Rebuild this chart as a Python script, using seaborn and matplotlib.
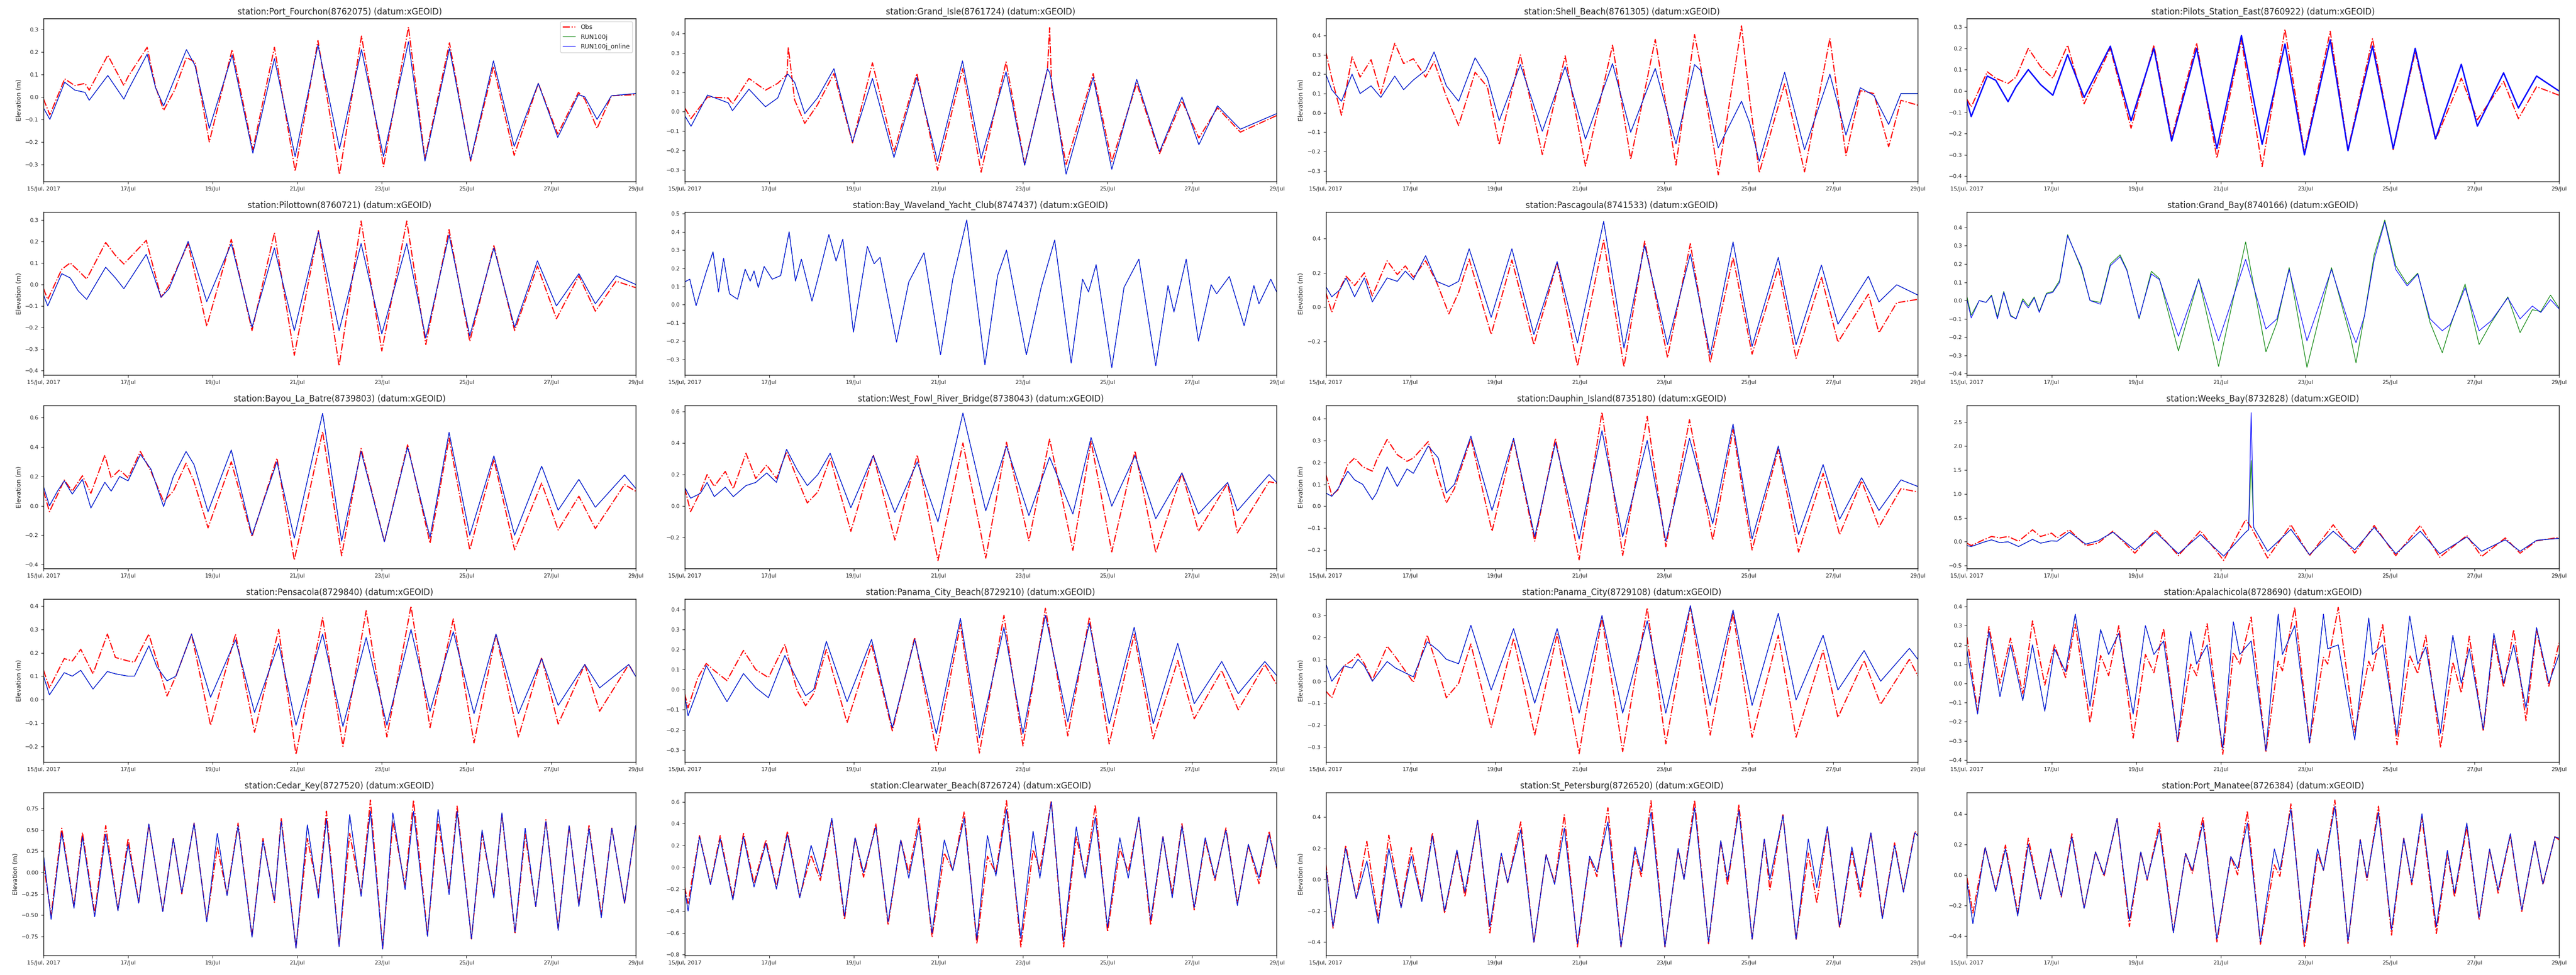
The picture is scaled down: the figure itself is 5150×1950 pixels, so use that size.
import pandas as pd
import seaborn as sns
import matplotlib.pyplot as plt

start = pd.Timestamp("2017-07-15")
end = pd.Timestamp("2017-07-29")
tick_labels = ["15/Jul, 2017", "17/Jul", "19/Jul", "21/Jul", "23/Jul", "25/Jul", "27/Jul", "29/Jul"]

# values: times in days from 15 Jul 00:00, elevations in m
fourchon_days = [0, 0.15, 0.5, 0.74, 0.98, 1.08, 1.52, 1.9, 2.0, 2.45, 2.65, 2.84, 3.1, 3.38, 3.58, 3.92, 4.46, 4.95, 5.46, 5.95, 6.49, 7.0, 7.52, 8.04, 8.63, 9.02, 9.6, 10.1, 10.64, 11.13, 11.7, 12.16, 12.65, 12.8, 13.09, 13.43, 14.0]
fourchon_obs = [-0.01, -0.08, 0.08, 0.05, 0.06, 0.03, 0.185, 0.05, 0.09, 0.22, 0.045, -0.06, 0.03, 0.175, 0.155, -0.2, 0.21, -0.235, 0.22, -0.33, 0.25, -0.345, 0.27, -0.31, 0.31, -0.275, 0.24, -0.285, 0.135, -0.26, 0.06, -0.165, 0.02, -0.01, -0.14, 0.005, 0.01]
fourchon_run = [-0.05, -0.1, 0.065, 0.03, 0.02, -0.015, 0.095, -0.01, 0.03, 0.19, 0.04, -0.04, 0.08, 0.21, 0.14, -0.14, 0.185, -0.25, 0.17, -0.265, 0.23, -0.23, 0.21, -0.265, 0.245, -0.285, 0.215, -0.28, 0.16, -0.22, 0.06, -0.18, 0.01, 0.0, -0.1, 0.005, 0.015]

grandisle_days = [0, 0.15, 0.54, 1.03, 1.13, 1.52, 1.91, 2.2, 2.42, 2.45, 2.6, 2.84, 3.14, 3.53, 3.97, 4.44, 4.95, 5.49, 5.98, 6.57, 7.01, 7.6, 8.04, 8.58, 8.63, 8.68, 9.02, 9.66, 10.1, 10.69, 11.23, 11.76, 12.16, 12.6, 13.14, 14.0]
grandisle_obs = [0.02, -0.035, 0.075, 0.07, 0.04, 0.17, 0.11, 0.145, 0.19, 0.33, 0.06, -0.06, 0.035, 0.195, -0.16, 0.25, -0.205, 0.195, -0.3, 0.22, -0.31, 0.255, -0.27, 0.22, 0.43, 0.12, -0.27, 0.195, -0.255, 0.145, -0.215, 0.055, -0.135, 0.02, -0.105, -0.02]
grandisle_run = [-0.02, -0.075, 0.085, 0.045, 0.005, 0.115, 0.025, 0.07, 0.19, 0.19, 0.15, -0.01, 0.07, 0.22, -0.155, 0.17, -0.235, 0.175, -0.255, 0.26, -0.24, 0.205, -0.275, 0.22, 0.2, 0.15, -0.32, 0.175, -0.295, 0.165, -0.205, 0.075, -0.17, 0.03, -0.09, -0.01]

shell_days = [0, 0.14, 0.37, 0.62, 0.81, 1.07, 1.3, 1.63, 1.84, 2.07, 2.36, 2.56, 2.85, 3.14, 3.53, 3.82, 4.1, 4.6, 5.12, 5.66, 6.14, 6.78, 7.21, 7.79, 8.28, 8.72, 8.86, 9.28, 9.83, 10.02, 10.25, 10.85, 11.32, 11.92, 12.3, 12.64, 12.96, 13.31, 13.6, 14.0]
shell_obs = [0.315, 0.18, -0.012, 0.29, 0.185, 0.275, 0.1, 0.36, 0.255, 0.28, 0.185, 0.265, 0.085, -0.065, 0.21, 0.135, -0.165, 0.3, -0.215, 0.295, -0.275, 0.35, -0.24, 0.38, -0.27, 0.405, 0.245, -0.32, 0.45, 0.075, -0.31, 0.15, -0.305, 0.385, -0.22, 0.115, 0.1, -0.175, 0.065, 0.04]
shell_run = [0.2, 0.12, 0.06, 0.2, 0.1, 0.14, 0.08, 0.19, 0.12, 0.17, 0.22, 0.315, 0.14, 0.06, 0.285, 0.18, -0.04, 0.25, -0.095, 0.24, -0.135, 0.255, -0.1, 0.23, -0.16, 0.25, 0.22, -0.18, 0.06, -0.05, -0.25, 0.21, -0.19, 0.2, -0.115, 0.13, 0.09, -0.06, 0.1, 0.1]

pilots_days = [0, 0.1, 0.48, 0.68, 0.97, 1.16, 1.45, 1.74, 2.03, 2.38, 2.77, 3.39, 3.88, 4.42, 4.84, 5.43, 5.91, 6.49, 6.98, 7.52, 7.98, 8.59, 9.01, 9.59, 10.08, 10.6, 11.08, 11.69, 12.07, 12.69, 13.04, 13.47, 14.0]
pilots_obs = [-0.04, -0.075, 0.09, 0.06, 0.035, 0.065, 0.2, 0.115, 0.06, 0.215, -0.06, 0.2, -0.175, 0.215, -0.22, 0.225, -0.315, 0.24, -0.355, 0.29, -0.29, 0.28, -0.275, 0.245, -0.275, 0.185, -0.23, 0.06, -0.135, 0.045, -0.13, 0.02, -0.02]
pilots_run = [-0.05, -0.12, 0.07, 0.05, -0.05, 0.02, 0.1, 0.03, -0.02, 0.17, -0.03, 0.21, -0.14, 0.2, -0.235, 0.2, -0.27, 0.26, -0.25, 0.22, -0.3, 0.24, -0.28, 0.21, -0.27, 0.2, -0.225, 0.125, -0.165, 0.085, -0.08, 0.07, 0.0]

pilottown_days = [0, 0.1, 0.43, 0.63, 0.82, 1.02, 1.47, 1.7, 1.9, 2.43, 2.78, 2.97, 3.42, 3.86, 4.44, 4.93, 5.46, 5.93, 6.5, 6.99, 7.51, 8.0, 8.59, 9.04, 9.59, 10.08, 10.65, 11.14, 11.68, 12.13, 12.66, 13.05, 13.54, 14.0]
pilottown_obs = [-0.02, -0.07, 0.07, 0.1, 0.065, 0.025, 0.195, 0.135, 0.095, 0.205, -0.06, -0.005, 0.19, -0.195, 0.21, -0.215, 0.24, -0.33, 0.25, -0.38, 0.295, -0.31, 0.295, -0.28, 0.255, -0.265, 0.18, -0.215, 0.085, -0.16, 0.04, -0.125, 0.015, -0.015]
pilottown_run = [-0.05, -0.1, 0.05, 0.03, -0.03, -0.07, 0.08, 0.03, -0.02, 0.14, -0.06, -0.02, 0.2, -0.08, 0.19, -0.2, 0.17, -0.215, 0.245, -0.215, 0.19, -0.23, 0.19, -0.25, 0.23, -0.24, 0.17, -0.2, 0.11, -0.1, 0.05, -0.09, 0.04, 0.0]

waveland_days = [0, 0.12, 0.27, 0.51, 0.67, 0.8, 0.92, 1.06, 1.25, 1.43, 1.55, 1.64, 1.74, 1.88, 2.07, 2.27, 2.47, 2.62, 2.76, 3.01, 3.19, 3.41, 3.58, 3.74, 3.99, 4.32, 4.48, 4.62, 5.01, 5.3, 5.66, 6.05, 6.34, 6.67, 7.1, 7.4, 7.61, 8.08, 8.43, 8.75, 9.14, 9.41, 9.55, 9.73, 10.1, 10.39, 10.74, 11.14, 11.43, 11.57, 11.86, 12.15, 12.45, 12.58, 12.88, 13.23, 13.46, 13.58, 13.86, 14.0]
waveland_run = [0.125, 0.14, -0.005, 0.18, 0.29, 0.07, 0.255, 0.06, 0.03, 0.195, 0.13, 0.185, 0.095, 0.21, 0.14, 0.16, 0.4, 0.13, 0.25, 0.02, 0.18, 0.385, 0.24, 0.36, -0.15, 0.32, 0.225, 0.26, -0.205, 0.125, 0.285, -0.275, 0.14, 0.465, -0.33, 0.16, 0.3, -0.275, 0.095, 0.355, -0.32, 0.14, 0.07, 0.22, -0.345, 0.095, 0.25, -0.335, 0.105, -0.04, 0.25, -0.2, 0.11, 0.06, 0.155, -0.115, 0.105, 0.005, 0.14, 0.07]

pascagoula_days = [0, 0.14, 0.33, 0.48, 0.68, 0.91, 1.1, 1.45, 1.69, 1.88, 2.07, 2.36, 2.62, 2.91, 3.14, 3.39, 3.91, 4.4, 4.92, 5.47, 5.95, 6.57, 7.05, 7.54, 8.08, 8.62, 9.09, 9.63, 10.08, 10.7, 11.12, 11.72, 12.11, 12.83, 13.08, 13.5, 14.0]
pascagoula_obs = [0.085, -0.03, 0.105, 0.18, 0.125, 0.2, 0.065, 0.27, 0.19, 0.24, 0.175, 0.27, 0.145, -0.04, 0.085, 0.28, -0.16, 0.275, -0.22, 0.26, -0.345, 0.39, -0.35, 0.385, -0.295, 0.37, -0.325, 0.29, -0.275, 0.23, -0.3, 0.175, -0.205, 0.075, -0.15, 0.025, 0.045]
pascagoula_run = [0.12, 0.06, 0.1, 0.17, 0.06, 0.17, 0.03, 0.17, 0.15, 0.21, 0.16, 0.3, 0.15, 0.12, 0.15, 0.34, -0.06, 0.34, -0.16, 0.265, -0.21, 0.5, -0.24, 0.36, -0.22, 0.31, -0.28, 0.38, -0.23, 0.29, -0.22, 0.245, -0.1, 0.18, 0.03, 0.13, 0.07]

grandbay_days = [0, 0.1, 0.29, 0.45, 0.58, 0.72, 0.87, 1.03, 1.16, 1.32, 1.45, 1.59, 1.71, 1.88, 2.03, 2.19, 2.38, 2.71, 2.91, 3.16, 3.39, 3.62, 3.78, 4.07, 4.36, 4.55, 5.0, 5.48, 5.95, 6.59, 7.07, 7.33, 7.62, 8.04, 8.62, 9.07, 9.2, 9.4, 9.63, 9.88, 10.14, 10.41, 10.66, 10.95, 11.24, 11.43, 11.78, 12.11, 12.4, 12.79, 13.08, 13.37, 13.57, 13.8, 14.0]
grandbay_run = [0.02, -0.08, 0.0, -0.01, 0.03, -0.09, 0.05, -0.08, -0.1, 0.01, -0.03, 0.02, -0.06, 0.04, 0.05, 0.11, 0.36, 0.17, 0.0, -0.01, 0.2, 0.25, 0.17, -0.1, 0.16, 0.12, -0.275, 0.12, -0.36, 0.32, -0.28, -0.12, 0.18, -0.365, 0.18, -0.2, -0.34, -0.08, 0.25, 0.44, 0.19, 0.09, 0.15, -0.12, -0.285, -0.14, 0.09, -0.24, -0.12, 0.02, -0.175, -0.05, -0.06, 0.03, -0.04]
grandbay_online = [0.005, -0.095, 0.0, -0.01, 0.025, -0.1, 0.045, -0.085, -0.1, 0.0, -0.04, 0.015, -0.065, 0.035, 0.045, 0.1, 0.355, 0.18, 0.0, -0.02, 0.19, 0.24, 0.165, -0.095, 0.145, 0.115, -0.195, 0.115, -0.22, 0.225, -0.155, -0.1, 0.17, -0.22, 0.17, -0.155, -0.23, -0.085, 0.225, 0.43, 0.17, 0.08, 0.145, -0.1, -0.165, -0.13, 0.07, -0.165, -0.11, 0.015, -0.1, -0.03, -0.065, 0.005, -0.045]

bayou_days = [0, 0.14, 0.33, 0.49, 0.68, 0.92, 1.12, 1.45, 1.6, 1.8, 2.0, 2.29, 2.54, 2.84, 3.07, 3.37, 3.56, 3.89, 4.44, 4.93, 5.52, 5.93, 6.6, 7.05, 7.51, 8.06, 8.61, 9.14, 9.59, 10.08, 10.65, 11.14, 11.78, 12.17, 12.66, 13.05, 13.74, 14.0]
bayou_obs = [0.1, -0.04, 0.075, 0.175, 0.1, 0.205, 0.085, 0.345, 0.19, 0.245, 0.19, 0.37, 0.235, 0.03, 0.1, 0.29, 0.165, -0.15, 0.3, -0.21, 0.325, -0.37, 0.505, -0.34, 0.39, -0.245, 0.415, -0.255, 0.46, -0.3, 0.315, -0.3, 0.155, -0.165, 0.065, -0.155, 0.145, 0.1]
bayou_run = [0.13, 0.0, 0.1, 0.17, 0.08, 0.18, -0.015, 0.16, 0.1, 0.2, 0.17, 0.35, 0.25, -0.005, 0.2, 0.37, 0.28, -0.04, 0.38, -0.2, 0.3, -0.22, 0.63, -0.24, 0.37, -0.245, 0.4, -0.215, 0.5, -0.2, 0.34, -0.2, 0.27, -0.03, 0.18, -0.01, 0.21, 0.12]

fowl_days = [0, 0.14, 0.37, 0.53, 0.7, 0.96, 1.15, 1.45, 1.68, 1.94, 2.17, 2.41, 2.66, 2.9, 3.15, 3.44, 3.93, 4.46, 4.97, 5.5, 5.99, 6.58, 7.12, 7.61, 8.14, 8.63, 9.18, 9.61, 10.1, 10.65, 11.14, 11.76, 12.15, 12.84, 13.07, 13.82, 14.0]
fowl_obs = [0.115, -0.035, 0.09, 0.2, 0.125, 0.22, 0.11, 0.335, 0.175, 0.26, 0.175, 0.345, 0.175, 0.02, 0.09, 0.305, -0.16, 0.325, -0.215, 0.325, -0.345, 0.4, -0.33, 0.405, -0.22, 0.425, -0.28, 0.41, -0.29, 0.35, -0.295, 0.21, -0.16, 0.145, -0.17, 0.155, 0.145]
fowl_run = [0.12, 0.05, 0.08, 0.15, 0.06, 0.12, 0.06, 0.13, 0.15, 0.21, 0.15, 0.36, 0.23, 0.13, 0.2, 0.335, -0.01, 0.32, -0.04, 0.28, -0.1, 0.59, -0.03, 0.38, -0.06, 0.31, -0.05, 0.435, 0.0, 0.32, -0.08, 0.21, -0.05, 0.15, -0.03, 0.2, 0.15]

dauphin_days = [0, 0.14, 0.29, 0.52, 0.68, 0.87, 1.1, 1.2, 1.45, 1.69, 1.92, 2.07, 2.42, 2.66, 2.85, 3.04, 3.43, 3.93, 4.44, 4.94, 5.43, 5.99, 6.53, 7.02, 7.6, 8.04, 8.6, 9.15, 9.63, 10.08, 10.7, 11.18, 11.76, 12.15, 12.67, 13.08, 13.6, 14.0]
dauphin_obs = [0.145, 0.05, 0.075, 0.19, 0.22, 0.18, 0.16, 0.21, 0.305, 0.235, 0.205, 0.22, 0.295, 0.13, 0.015, 0.08, 0.31, -0.115, 0.305, -0.16, 0.31, -0.245, 0.43, -0.225, 0.41, -0.185, 0.395, -0.155, 0.35, -0.2, 0.26, -0.21, 0.15, -0.13, 0.115, -0.095, 0.08, 0.065]
dauphin_run = [0.06, 0.045, 0.08, 0.16, 0.12, 0.1, 0.03, 0.06, 0.18, 0.09, 0.17, 0.15, 0.275, 0.22, 0.06, 0.1, 0.32, -0.02, 0.31, -0.14, 0.29, -0.15, 0.345, -0.14, 0.3, -0.16, 0.31, -0.08, 0.375, -0.15, 0.275, -0.13, 0.19, -0.06, 0.13, -0.02, 0.12, 0.09]

weeks_days = [0, 0.1, 0.39, 0.58, 0.78, 0.97, 1.22, 1.55, 1.74, 2.0, 2.13, 2.42, 2.81, 3.1, 3.45, 3.97, 4.46, 5.0, 5.52, 6.07, 6.59, 6.66, 6.72, 6.78, 7.11, 7.66, 8.1, 8.66, 9.17, 9.63, 10.14, 10.72, 11.18, 11.82, 12.17, 12.73, 13.08, 13.47, 14.0]
weeks_obs = [-0.03, -0.08, 0.04, 0.11, 0.08, 0.11, 0.01, 0.25, 0.11, 0.18, 0.08, 0.25, -0.08, -0.03, 0.22, -0.24, 0.25, -0.29, 0.23, -0.39, 0.46, 0.38, 0.3, 0.2, -0.34, 0.355, -0.29, 0.355, -0.24, 0.34, -0.29, 0.34, -0.325, 0.13, -0.31, 0.08, -0.24, 0.02, 0.09]
weeks_run = [-0.08, -0.1, -0.01, 0.04, -0.02, 0.0, -0.1, 0.05, -0.03, 0.02, 0.01, 0.2, -0.05, 0.02, 0.2, -0.17, 0.2, -0.25, 0.15, -0.3, 0.2, 0.25, 1.7, 0.3, -0.2, 0.26, -0.27, 0.22, -0.17, 0.3, -0.25, 0.22, -0.25, 0.1, -0.2, 0.04, -0.2, 0.03, 0.07]
weeks_online = [-0.08, -0.1, -0.01, 0.04, -0.02, 0.0, -0.1, 0.05, -0.03, 0.02, 0.01, 0.2, -0.05, 0.02, 0.2, -0.17, 0.2, -0.25, 0.15, -0.3, 0.2, 0.25, 2.7, 0.3, -0.2, 0.26, -0.27, 0.22, -0.17, 0.3, -0.25, 0.22, -0.25, 0.1, -0.2, 0.04, -0.2, 0.03, 0.07]

pensacola_days = [0, 0.14, 0.49, 0.68, 0.88, 1.17, 1.51, 1.7, 2.0, 2.15, 2.49, 2.68, 2.92, 3.13, 3.5, 3.95, 4.54, 4.99, 5.56, 5.97, 6.6, 7.08, 7.63, 8.12, 8.69, 9.14, 9.69, 10.18, 10.7, 11.23, 11.78, 12.17, 12.8, 13.15, 13.84, 14.0]
pensacola_obs = [0.125, 0.05, 0.175, 0.165, 0.215, 0.11, 0.28, 0.18, 0.165, 0.16, 0.28, 0.165, 0.015, 0.1, 0.28, -0.11, 0.28, -0.14, 0.3, -0.235, 0.35, -0.2, 0.38, -0.16, 0.4, -0.12, 0.345, -0.185, 0.28, -0.16, 0.18, -0.105, 0.15, -0.05, 0.15, 0.1]
pensacola_run = [0.1, 0.02, 0.115, 0.1, 0.125, 0.045, 0.12, 0.11, 0.1, 0.1, 0.23, 0.14, 0.08, 0.1, 0.28, 0.01, 0.255, -0.055, 0.24, -0.11, 0.28, -0.115, 0.265, -0.11, 0.3, -0.05, 0.29, -0.06, 0.28, -0.06, 0.175, -0.025, 0.15, 0.05, 0.15, 0.1]

pcbeach_days = [0, 0.08, 0.31, 0.51, 0.7, 1.0, 1.39, 1.68, 1.98, 2.37, 2.66, 2.86, 3.05, 3.35, 3.84, 4.42, 4.91, 5.44, 5.95, 6.52, 6.97, 7.55, 8.0, 8.53, 9.06, 9.57, 10.04, 10.63, 11.08, 11.66, 12.05, 12.7, 13.09, 13.72, 14.0]
pcbeach_obs = [-0.02, -0.09, 0.06, 0.13, 0.095, 0.045, 0.195, 0.1, 0.06, 0.225, -0.005, -0.08, -0.02, 0.2, -0.165, 0.225, -0.205, 0.26, -0.305, 0.325, -0.315, 0.37, -0.28, 0.405, -0.23, 0.36, -0.27, 0.275, -0.245, 0.145, -0.145, 0.095, -0.1, 0.125, 0.025]
pcbeach_run = [-0.03, -0.13, 0.0, 0.12, 0.05, -0.06, 0.08, 0.01, -0.04, 0.17, 0.05, -0.03, 0.0, 0.24, -0.06, 0.25, -0.19, 0.25, -0.22, 0.355, -0.24, 0.31, -0.22, 0.37, -0.16, 0.33, -0.17, 0.31, -0.17, 0.23, -0.07, 0.14, -0.02, 0.14, 0.07]

pcity_days = [0, 0.14, 0.43, 0.62, 0.76, 0.91, 1.1, 1.45, 1.65, 2.07, 2.4, 2.66, 2.85, 3.14, 3.43, 3.91, 4.44, 4.94, 5.47, 5.99, 6.53, 7.02, 7.6, 8.04, 8.62, 9.09, 9.63, 10.08, 10.7, 11.12, 11.76, 12.11, 12.73, 13.12, 13.8, 14.0]
pcity_obs = [-0.045, -0.075, 0.07, 0.095, 0.125, 0.08, 0.005, 0.16, 0.11, -0.005, 0.21, 0.05, -0.075, -0.01, 0.17, -0.21, 0.195, -0.245, 0.215, -0.33, 0.29, -0.32, 0.335, -0.285, 0.34, -0.245, 0.31, -0.255, 0.21, -0.255, 0.14, -0.165, 0.095, -0.105, 0.1, 0.025]
pcity_run = [0.08, 0.0, 0.07, 0.06, 0.1, 0.07, 0.0, 0.09, 0.06, 0.02, 0.18, 0.14, 0.1, 0.08, 0.255, -0.04, 0.24, -0.1, 0.24, -0.145, 0.3, -0.145, 0.275, -0.145, 0.345, -0.11, 0.325, -0.11, 0.31, -0.085, 0.21, -0.04, 0.14, 0.0, 0.15, 0.1]

apalach_days = [0, 0.25, 0.52, 0.78, 1.03, 1.32, 1.55, 1.84, 2.07, 2.33, 2.56, 2.91, 3.16, 3.35, 3.59, 3.93, 4.22, 4.42, 4.65, 4.98, 5.29, 5.43, 5.68, 6.05, 6.3, 6.45, 6.72, 7.07, 7.36, 7.46, 7.75, 8.1, 8.43, 8.53, 8.78, 9.17, 9.5, 9.59, 9.83, 10.17, 10.47, 10.66, 10.85, 11.2, 11.49, 11.69, 11.88, 12.21, 12.46, 12.69, 12.93, 13.22, 13.47, 13.76, 14.0]
apalach_obs = [0.24, -0.145, 0.295, 0.0, 0.235, -0.055, 0.325, -0.01, 0.2, 0.03, 0.31, -0.205, 0.145, 0.04, 0.3, -0.285, 0.15, 0.055, 0.285, -0.31, 0.1, 0.04, 0.31, -0.37, 0.16, 0.1, 0.345, -0.36, 0.115, 0.065, 0.395, -0.31, 0.135, 0.1, 0.395, -0.255, 0.115, 0.065, 0.305, -0.32, 0.145, 0.05, 0.25, -0.335, 0.11, -0.05, 0.245, -0.25, 0.23, -0.02, 0.28, -0.195, 0.275, -0.015, 0.21]
apalach_run = [0.17, -0.16, 0.27, -0.07, 0.2, -0.09, 0.2, -0.145, 0.18, 0.06, 0.36, -0.12, 0.28, 0.15, 0.26, -0.16, 0.3, 0.15, 0.22, -0.3, 0.27, 0.1, 0.2, -0.34, 0.32, 0.15, 0.22, -0.35, 0.36, 0.15, 0.3, -0.31, 0.36, 0.18, 0.2, -0.295, 0.34, 0.15, 0.2, -0.27, 0.35, 0.1, 0.19, -0.26, 0.25, 0.0, 0.18, -0.24, 0.26, 0.0, 0.2, -0.13, 0.29, 0.0, 0.15]

cedar_days = [0.0, 0.18, 0.43, 0.72, 0.92, 1.21, 1.47, 1.76, 2.0, 2.25, 2.49, 2.82, 3.07, 3.27, 3.56, 3.86, 4.11, 4.34, 4.6, 4.93, 5.19, 5.46, 5.62, 5.97, 6.24, 6.5, 6.69, 6.99, 7.24, 7.51, 7.73, 8.02, 8.26, 8.55, 8.75, 9.08, 9.33, 9.59, 9.78, 10.12, 10.37, 10.65, 10.84, 11.15, 11.39, 11.64, 11.88, 12.17, 12.43, 12.66, 12.9, 13.19, 13.44, 13.74, 14.0]
cedar_obs = [0.1, -0.5, 0.52, -0.4, 0.47, -0.48, 0.55, -0.44, 0.4, -0.35, 0.56, -0.45, 0.4, -0.25, 0.58, -0.57, 0.3, -0.26, 0.58, -0.75, 0.4, -0.35, 0.64, -0.88, 0.4, -0.25, 0.72, -0.86, 0.46, -0.25, 0.85, -0.89, 0.6, -0.15, 0.85, -0.73, 0.6, -0.22, 0.78, -0.78, 0.45, -0.27, 0.68, -0.72, 0.45, -0.4, 0.62, -0.66, 0.55, -0.38, 0.55, -0.5, 0.52, -0.36, 0.54]
cedar_run = [0.2, -0.55, 0.47, -0.42, 0.42, -0.52, 0.45, -0.45, 0.33, -0.36, 0.57, -0.46, 0.4, -0.24, 0.58, -0.58, 0.46, -0.27, 0.55, -0.76, 0.37, -0.33, 0.6, -0.89, 0.56, -0.3, 0.63, -0.87, 0.68, -0.28, 0.72, -0.9, 0.7, -0.2, 0.72, -0.75, 0.74, -0.26, 0.72, -0.78, 0.5, -0.3, 0.7, -0.7, 0.52, -0.4, 0.6, -0.68, 0.55, -0.4, 0.52, -0.53, 0.52, -0.36, 0.55]

clearwater_days = [0, 0.08, 0.35, 0.61, 0.84, 1.14, 1.39, 1.64, 1.92, 2.17, 2.43, 2.72, 2.99, 3.21, 3.48, 3.78, 4.03, 4.23, 4.52, 4.81, 5.11, 5.3, 5.54, 5.85, 6.14, 6.34, 6.61, 6.91, 7.16, 7.36, 7.61, 7.95, 8.24, 8.4, 8.67, 8.96, 9.26, 9.47, 9.71, 10.0, 10.29, 10.49, 10.74, 11.02, 11.31, 11.53, 11.76, 12.05, 12.31, 12.54, 12.8, 13.07, 13.33, 13.58, 13.82, 14.0]
clearwater_obs = [-0.18, -0.33, 0.29, -0.15, 0.29, -0.28, 0.31, -0.15, 0.25, -0.18, 0.33, -0.27, 0.11, -0.12, 0.43, -0.48, 0.27, -0.09, 0.4, -0.53, 0.25, -0.05, 0.45, -0.64, 0.13, -0.025, 0.51, -0.7, 0.1, -0.05, 0.61, -0.73, 0.16, -0.025, 0.61, -0.73, 0.28, -0.07, 0.57, -0.59, 0.17, -0.04, 0.45, -0.53, 0.28, -0.24, 0.4, -0.39, 0.25, -0.12, 0.36, -0.33, 0.2, -0.15, 0.33, -0.01]
clearwater_run = [-0.2, -0.4, 0.28, -0.16, 0.26, -0.3, 0.28, -0.18, 0.22, -0.2, 0.3, -0.28, 0.2, -0.08, 0.45, -0.45, 0.27, -0.05, 0.37, -0.5, 0.25, -0.1, 0.38, -0.6, 0.25, -0.03, 0.45, -0.66, 0.29, -0.08, 0.53, -0.65, 0.33, -0.1, 0.6, -0.68, 0.37, -0.1, 0.46, -0.55, 0.27, -0.1, 0.46, -0.48, 0.28, -0.28, 0.38, -0.37, 0.27, -0.1, 0.34, -0.35, 0.21, -0.1, 0.3, 0.0]

stpete_days = [0, 0.17, 0.47, 0.72, 0.97, 1.24, 1.49, 1.78, 2.02, 2.27, 2.52, 2.81, 3.1, 3.29, 3.59, 3.88, 4.15, 4.3, 4.61, 4.92, 5.21, 5.41, 5.64, 5.95, 6.24, 6.41, 6.67, 6.98, 7.31, 7.46, 7.69, 8.02, 8.33, 8.47, 8.72, 9.05, 9.34, 9.5, 9.77, 10.08, 10.37, 10.5, 10.81, 11.12, 11.41, 11.61, 11.86, 12.15, 12.44, 12.64, 12.89, 13.16, 13.45, 13.66, 13.93, 14.0]
stpete_obs = [0.105, -0.31, 0.22, -0.12, 0.245, -0.26, 0.285, -0.17, 0.205, -0.13, 0.3, -0.215, 0.18, -0.11, 0.38, -0.34, 0.16, -0.02, 0.37, -0.405, 0.16, -0.02, 0.415, -0.43, 0.14, 0.02, 0.46, -0.43, 0.18, 0.02, 0.505, -0.43, 0.19, 0.01, 0.51, -0.41, 0.245, -0.035, 0.48, -0.38, 0.255, -0.065, 0.415, -0.385, 0.17, -0.15, 0.33, -0.31, 0.18, -0.11, 0.3, -0.24, 0.235, -0.075, 0.31, 0.29]
stpete_run = [0.08, -0.3, 0.2, -0.12, 0.12, -0.28, 0.2, -0.18, 0.15, -0.14, 0.28, -0.2, 0.19, -0.08, 0.38, -0.3, 0.17, -0.02, 0.32, -0.4, 0.16, -0.03, 0.33, -0.41, 0.15, 0.05, 0.37, -0.43, 0.21, 0.05, 0.43, -0.43, 0.2, 0.0, 0.46, -0.4, 0.25, 0.0, 0.44, -0.38, 0.26, 0.0, 0.41, -0.38, 0.26, -0.05, 0.34, -0.3, 0.21, -0.07, 0.3, -0.25, 0.22, -0.08, 0.3, 0.28]

manatee_days = [0, 0.14, 0.43, 0.68, 0.91, 1.2, 1.45, 1.74, 1.98, 2.23, 2.48, 2.77, 3.04, 3.24, 3.55, 3.84, 4.11, 4.26, 4.55, 4.88, 5.17, 5.33, 5.58, 5.91, 6.24, 6.4, 6.63, 6.94, 7.27, 7.4, 7.66, 7.98, 8.29, 8.43, 8.7, 9.01, 9.3, 9.46, 9.73, 10.04, 10.33, 10.52, 10.76, 11.1, 11.36, 11.53, 11.82, 12.11, 12.36, 12.56, 12.85, 13.12, 13.43, 13.62, 13.9, 14.0]
manatee_obs = [-0.02, -0.25, 0.18, -0.1, 0.195, -0.25, 0.24, -0.155, 0.16, -0.145, 0.27, -0.22, 0.15, -0.01, 0.37, -0.34, 0.15, -0.035, 0.34, -0.37, 0.14, 0.01, 0.38, -0.44, 0.12, 0.0, 0.42, -0.455, 0.065, -0.01, 0.465, -0.475, 0.14, 0.03, 0.49, -0.45, 0.23, -0.035, 0.45, -0.395, 0.24, -0.065, 0.375, -0.385, 0.14, -0.145, 0.315, -0.295, 0.165, -0.12, 0.26, -0.24, 0.22, -0.065, 0.25, 0.23]
manatee_run = [-0.05, -0.32, 0.18, -0.11, 0.17, -0.27, 0.2, -0.16, 0.17, -0.14, 0.25, -0.22, 0.15, 0.0, 0.37, -0.3, 0.15, -0.03, 0.3, -0.38, 0.14, 0.03, 0.34, -0.42, 0.12, 0.04, 0.34, -0.44, 0.17, 0.03, 0.43, -0.44, 0.17, 0.03, 0.45, -0.44, 0.23, -0.02, 0.41, -0.36, 0.24, -0.05, 0.4, -0.34, 0.16, -0.12, 0.34, -0.28, 0.17, -0.1, 0.27, -0.23, 0.22, -0.06, 0.25, 0.24]

titles = [
    "station:Port_Fourchon(8762075) (datum:xGEOID)",
    "station:Grand_Isle(8761724) (datum:xGEOID)",
    "station:Shell_Beach(8761305) (datum:xGEOID)",
    "station:Pilots_Station_East(8760922) (datum:xGEOID)",
    "station:Pilottown(8760721) (datum:xGEOID)",
    "station:Bay_Waveland_Yacht_Club(8747437) (datum:xGEOID)",
    "station:Pascagoula(8741533) (datum:xGEOID)",
    "station:Grand_Bay(8740166) (datum:xGEOID)",
    "station:Bayou_La_Batre(8739803) (datum:xGEOID)",
    "station:West_Fowl_River_Bridge(8738043) (datum:xGEOID)",
    "station:Dauphin_Island(8735180) (datum:xGEOID)",
    "station:Weeks_Bay(8732828) (datum:xGEOID)",
    "station:Pensacola(8729840) (datum:xGEOID)",
    "station:Panama_City_Beach(8729210) (datum:xGEOID)",
    "station:Panama_City(8729108) (datum:xGEOID)",
    "station:Apalachicola(8728690) (datum:xGEOID)",
    "station:Cedar_Key(8727520) (datum:xGEOID)",
    "station:Clearwater_Beach(8726724) (datum:xGEOID)",
    "station:St_Petersburg(8726520) (datum:xGEOID)",
    "station:Port_Manatee(8726384) (datum:xGEOID)",
]

# (days, obs, RUN100j, RUN100j_online) per panel
panels = [
    (fourchon_days, fourchon_obs, fourchon_run, fourchon_run),
    (grandisle_days, grandisle_obs, grandisle_run, grandisle_run),
    (shell_days, shell_obs, shell_run, shell_run),
    (pilots_days, pilots_obs, pilots_run, pilots_run),
    (pilottown_days, pilottown_obs, pilottown_run, pilottown_run),
    (waveland_days, None, waveland_run, waveland_run),
    (pascagoula_days, pascagoula_obs, pascagoula_run, pascagoula_run),
    (grandbay_days, None, grandbay_run, grandbay_online),
    (bayou_days, bayou_obs, bayou_run, bayou_run),
    (fowl_days, fowl_obs, fowl_run, fowl_run),
    (dauphin_days, dauphin_obs, dauphin_run, dauphin_run),
    (weeks_days, weeks_obs, weeks_run, weeks_online),
    (pensacola_days, pensacola_obs, pensacola_run, pensacola_run),
    (pcbeach_days, pcbeach_obs, pcbeach_run, pcbeach_run),
    (pcity_days, pcity_obs, pcity_run, pcity_run),
    (apalach_days, apalach_obs, apalach_run, apalach_run),
    (cedar_days, cedar_obs, cedar_run, cedar_run),
    (clearwater_days, clearwater_obs, clearwater_run, clearwater_run),
    (stpete_days, stpete_obs, stpete_run, stpete_run),
    (manatee_days, manatee_obs, manatee_run, manatee_run),
]

ylims = [(-0.376, 0.348), (-0.358, 0.477), (-0.355, 0.488), (-0.425, 0.34),
         (-0.422, 0.337), (-0.386, 0.509), (-0.397, 0.555), (-0.407, 0.484),
         (-0.427, 0.683), (-0.396, 0.638), (-0.285, 0.46), (-0.56, 2.85),
         (-0.267, 0.43), (-0.36, 0.451), (-0.368, 0.375), (-0.41, 0.439),
         (-0.975, 0.94), (-0.808, 0.685), (-0.485, 0.558), (-0.529, 0.54)]

sns.set_theme(style="ticks")
plt.rcParams["font.family"] = ["DejaVu Sans"]

fig, axes = plt.subplots(5, 4, figsize=(51.5, 19.5), dpi=100)
fig.subplots_adjust(left=0.0169, right=0.9934, top=0.981, bottom=0.020, wspace=0.083, hspace=0.187)

tick_dates = pd.date_range(start, end, freq="2D")

for i, ax in enumerate(axes.flat):
    days, obs, run, online = panels[i]
    x = start + pd.to_timedelta(days, unit="D")
    if obs is not None:
        sns.lineplot(x=x, y=obs, ax=ax, color="red", linestyle="-.", linewidth=1.6,
                     label="Obs", legend=False, estimator=None, sort=False)
    sns.lineplot(x=x, y=run, ax=ax, color="green", linewidth=0.9,
                 label="RUN100j", legend=False, estimator=None, sort=False)
    lw = 2.0 if "Pilots" in titles[i] else 0.9
    sns.lineplot(x=x, y=online, ax=ax, color="blue", linewidth=lw,
                 label="RUN100j_online", legend=False, estimator=None, sort=False)

    ax.set_xlim(start, end)
    ax.set_ylim(*ylims[i])
    ax.set_xticks(tick_dates)
    ax.set_xticklabels(tick_labels)
    ax.tick_params(labelsize=8, length=3.5, width=0.8)
    ax.set_title(titles[i], fontsize=12)
    ax.set_xlabel("")
    if i % 4 in (0, 2):
        ax.set_ylabel("Elevation (m)", fontsize=9)
    else:
        ax.set_ylabel("")
    for s in ax.spines.values():
        s.set_linewidth(1.0)
        s.set_color("black")

axes[0, 0].legend(loc="upper right", fontsize=9)

plt.savefig("out.png", dpi=100)
plt.close()
